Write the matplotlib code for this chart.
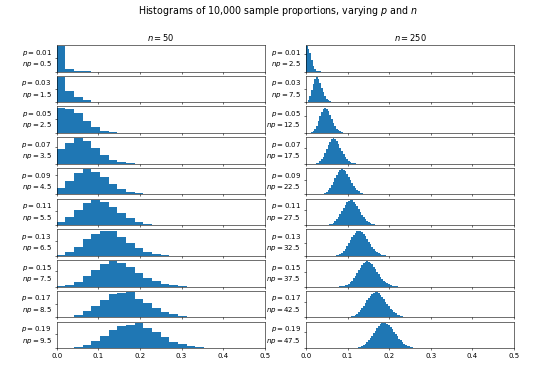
import matplotlib
matplotlib.use("Agg")
import matplotlib.pyplot as plt
import numpy as np
from matplotlib.ticker import MaxNLocator

# Histograms of 10,000 sample proportions.
# Counts per bin; each list starts at bin index FIRST_BIN_* of its column.
P_VALUES = [0.01, 0.03, 0.05, 0.07, 0.09, 0.11, 0.13, 0.15, 0.17, 0.19]
N_VALUES = [50, 250]

# n = 50 (24 bins over 0..0.5)
COUNTS_N50 = [
    [9110, 752, 120, 16, 2],
    [5553, 2555, 1264, 459, 131, 30, 6, 1],
    [2794, 2611, 2199, 1360, 658, 260, 86, 24, 6, 1],
    [1265, 1843, 2220, 1963, 1360, 768, 363, 147, 52, 16, 4, 1],
    [532, 1072, 1697, 1972, 1794, 1331, 827, 440, 203, 82, 30, 10, 3, 1],
    [212, 552, 1091, 1584, 1801, 1669, 1297, 862, 497, 252, 113, 45, 16, 5, 2],
    [80, 259, 619, 1087, 1470, 1660, 1650, 1250, 881, 520, 280, 142, 62, 25,
     9, 3, 1],
    [29, 113, 319, 661, 1073, 1390, 1576, 1495, 1231, 860, 572, 328, 169, 79,
     33, 13, 5, 1],
    [10, 46, 151, 364, 687, 1055, 1380, 1460, 1510, 1100, 860, 590, 350, 190,
     95, 42, 17, 7, 2],
    [3, 18, 67, 185, 400, 704, 1038, 1240, 1300, 1440, 1150, 896, 614, 381,
     214, 110, 52, 22, 9, 3],
]
FIRST_BIN_N50 = [0, 0, 0, 0, 0, 0, 0, 0, 0, 0]

# n = 250 (124 bins over 0..0.5)
COUNTS_N250 = [
    [2858, 2574, 2149, 1340, 666, 275, 97, 30, 8, 2],
    [43, 147, 375, 717, 1091, 1377, 1485, 1395, 1160, 865, 583, 359, 204, 107,
     52, 24, 10, 4, 2, 1],
    [2, 10, 33, 85, 183, 336, 537, 760, 964, 1107, 1160, 1118, 996, 825, 638,
     462, 315, 202, 123, 71, 39, 20, 10, 5, 2, 1],
    [1, 3, 8, 20, 46, 93, 169, 277, 416, 573, 730, 864, 955, 990, 964, 886,
     770, 635, 498, 371, 264, 180, 117, 73, 44, 25, 14, 8, 4, 2, 1],
    [2, 5, 11, 24, 48, 87, 146, 226, 329, 448, 573, 692, 791, 857, 882, 865,
     809, 723, 619, 508, 400, 303, 221, 155, 105, 69, 43, 26, 16, 9, 5, 3, 1, 1],
    [1, 3, 6, 13, 25, 45, 77, 122, 185, 264, 357, 459, 563, 658, 735, 786, 806,
     794, 751, 684, 600, 507, 414, 327, 249, 184, 132, 91, 61, 40, 25, 16, 9,
     5, 3, 2, 1],
    [2, 3, 7, 13, 23, 40, 66, 102, 151, 213, 288, 372, 462, 549, 628, 692, 733,
     750, 740, 706, 651, 581, 502, 421, 342, 269, 206, 153, 111, 78, 53, 36, 23,
     15, 9, 5, 3, 2, 1],
    [1, 2, 3, 6, 12, 21, 35, 55, 84, 123, 173, 234, 304, 380, 459, 535, 603,
     657, 692, 706, 699, 670, 624, 564, 495, 423, 351, 284, 223, 171, 127, 93,
     66, 46, 31, 20, 13, 8, 5, 3, 2, 1],
    [2, 3, 6, 11, 18, 29, 46, 69, 100, 140, 190, 248, 314, 384, 455, 522, 581,
     628, 659, 671, 665, 641, 601, 548, 488, 422, 357, 294, 236, 185, 141, 106,
     77, 55, 38, 26, 17, 11, 7, 5, 3, 2, 1],
    [1, 2, 3, 5, 9, 15, 24, 38, 56, 81, 114, 154, 203, 259, 320, 385, 449, 510,
     562, 604, 631, 643, 637, 616, 581, 535, 480, 421, 360, 301, 246, 196, 153,
     117, 87, 64, 46, 32, 22, 15, 10, 6, 4, 2, 1, 1],
]
FIRST_BIN_N250 = [0, 0, 1, 3, 7, 10, 14, 17, 22, 25]

BIN_EDGES = {
    50: np.linspace(0, 0.5, 25),
    250: np.linspace(0, 0.5, 125),
}


def main() -> None:
    fig, axes = plt.subplots(10, 2, figsize=(10.8, 7.44), dpi=50, sharex=True)
    fig.subplots_adjust(left=0.105, right=0.952, top=0.879, bottom=0.064,
                        wspace=0.197, hspace=0.159)

    columns = [
        (50, COUNTS_N50, FIRST_BIN_N50),
        (250, COUNTS_N250, FIRST_BIN_N250),
    ]
    for col, (n, counts, firsts) in enumerate(columns):
        edges = BIN_EDGES[n]
        centers = (edges[:-1] + edges[1:]) / 2
        for row, p in enumerate(P_VALUES):
            ax = axes[row, col]
            c = counts[row]
            f = firsts[row]
            ax.hist(centers[f:f + len(c)], bins=edges, weights=c)
            ax.set_xlim(0, 0.5)
            ax.yaxis.set_major_locator(MaxNLocator(2))
            ax.tick_params(axis="y", labelleft=False)
            ax.set_ylabel(f"$p = {p}$\n$np = {n * p:g}$",
                          rotation=0, ha="right", va="center")
        axes[0, col].set_title(f"$n = {n}$")

    fig.suptitle("Histograms of 10,000 sample proportions, varying $p$ and $n$",
                 fontsize=13.7, x=0.515, y=0.99)
    fig.savefig("out.png", dpi=50)


if __name__ == "__main__":
    main()
